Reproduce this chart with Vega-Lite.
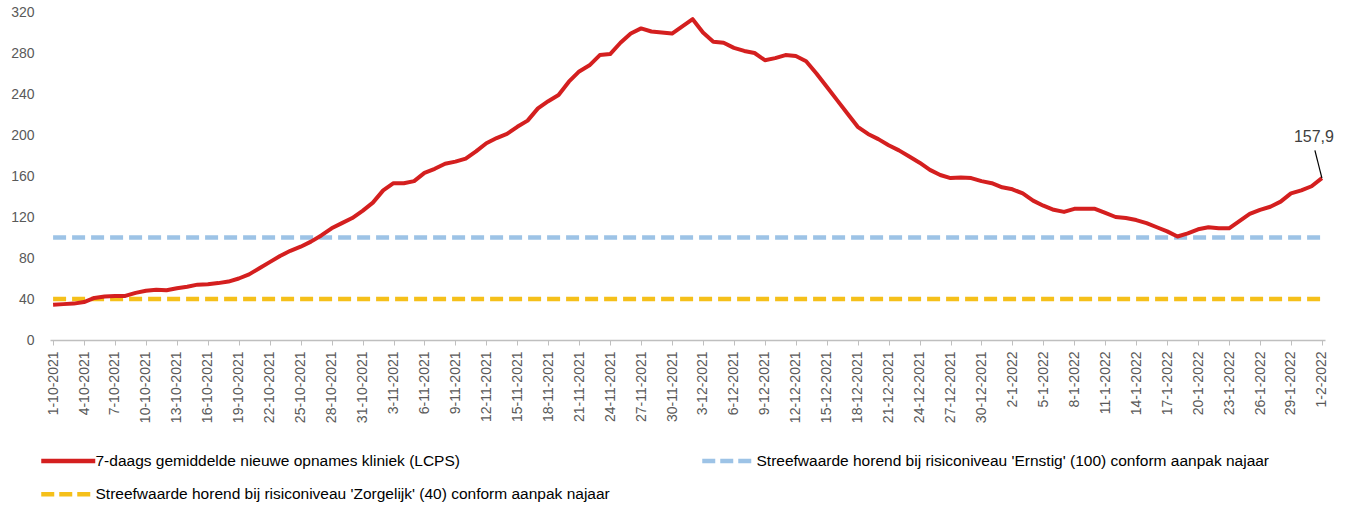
{
  "$schema": "https://vega.github.io/schema/vega-lite/v6.json",
  "width": 1275,
  "height": 328,
  "autosize": {"type": "none"},
  "padding": {"left": 50, "top": 12, "right": 25, "bottom": 168},
  "background": "white",
  "config": {
    "font": "Liberation Sans",
    "view": {"stroke": null},
    "locale": {"number": {"decimal": ",", "thousands": ".", "grouping": [3], "currency": ["€", ""]}}
  },
  "data": {"values": [
    {"d": "1-10-2021", "v": 34.5}, {"d": "2-10-2021", "v": 35}, {"d": "3-10-2021", "v": 35.5}, {"d": "4-10-2021", "v": 37},
    {"d": "5-10-2021", "v": 41}, {"d": "6-10-2021", "v": 42.5}, {"d": "7-10-2021", "v": 43}, {"d": "8-10-2021", "v": 43},
    {"d": "9-10-2021", "v": 46}, {"d": "10-10-2021", "v": 48}, {"d": "11-10-2021", "v": 49}, {"d": "12-10-2021", "v": 48.5},
    {"d": "13-10-2021", "v": 50.5}, {"d": "14-10-2021", "v": 52}, {"d": "15-10-2021", "v": 54}, {"d": "16-10-2021", "v": 54.5},
    {"d": "17-10-2021", "v": 55.5}, {"d": "18-10-2021", "v": 57}, {"d": "19-10-2021", "v": 60}, {"d": "20-10-2021", "v": 64},
    {"d": "21-10-2021", "v": 70}, {"d": "22-10-2021", "v": 76}, {"d": "23-10-2021", "v": 82}, {"d": "24-10-2021", "v": 87},
    {"d": "25-10-2021", "v": 91}, {"d": "26-10-2021", "v": 96}, {"d": "27-10-2021", "v": 102}, {"d": "28-10-2021", "v": 109},
    {"d": "29-10-2021", "v": 114}, {"d": "30-10-2021", "v": 119}, {"d": "31-10-2021", "v": 126},
    {"d": "1-11-2021", "v": 134}, {"d": "2-11-2021", "v": 146}, {"d": "3-11-2021", "v": 153}, {"d": "4-11-2021", "v": 153},
    {"d": "5-11-2021", "v": 155}, {"d": "6-11-2021", "v": 163}, {"d": "7-11-2021", "v": 167}, {"d": "8-11-2021", "v": 172},
    {"d": "9-11-2021", "v": 174}, {"d": "10-11-2021", "v": 177}, {"d": "11-11-2021", "v": 184}, {"d": "12-11-2021", "v": 192},
    {"d": "13-11-2021", "v": 197}, {"d": "14-11-2021", "v": 201}, {"d": "15-11-2021", "v": 208}, {"d": "16-11-2021", "v": 214},
    {"d": "17-11-2021", "v": 226}, {"d": "18-11-2021", "v": 233}, {"d": "19-11-2021", "v": 239}, {"d": "20-11-2021", "v": 252},
    {"d": "21-11-2021", "v": 262}, {"d": "22-11-2021", "v": 268}, {"d": "23-11-2021", "v": 278}, {"d": "24-11-2021", "v": 279},
    {"d": "25-11-2021", "v": 290}, {"d": "26-11-2021", "v": 299}, {"d": "27-11-2021", "v": 304}, {"d": "28-11-2021", "v": 301},
    {"d": "29-11-2021", "v": 300}, {"d": "30-11-2021", "v": 299},
    {"d": "1-12-2021", "v": 306}, {"d": "2-12-2021", "v": 313}, {"d": "3-12-2021", "v": 300}, {"d": "4-12-2021", "v": 291},
    {"d": "5-12-2021", "v": 290}, {"d": "6-12-2021", "v": 285}, {"d": "7-12-2021", "v": 282}, {"d": "8-12-2021", "v": 280},
    {"d": "9-12-2021", "v": 273}, {"d": "10-12-2021", "v": 275}, {"d": "11-12-2021", "v": 278}, {"d": "12-12-2021", "v": 277},
    {"d": "13-12-2021", "v": 272}, {"d": "14-12-2021", "v": 260}, {"d": "15-12-2021", "v": 247}, {"d": "16-12-2021", "v": 234},
    {"d": "17-12-2021", "v": 221}, {"d": "18-12-2021", "v": 208}, {"d": "19-12-2021", "v": 201}, {"d": "20-12-2021", "v": 196},
    {"d": "21-12-2021", "v": 190}, {"d": "22-12-2021", "v": 185}, {"d": "23-12-2021", "v": 179}, {"d": "24-12-2021", "v": 173},
    {"d": "25-12-2021", "v": 166}, {"d": "26-12-2021", "v": 161}, {"d": "27-12-2021", "v": 158}, {"d": "28-12-2021", "v": 158.5},
    {"d": "29-12-2021", "v": 158}, {"d": "30-12-2021", "v": 155}, {"d": "31-12-2021", "v": 153},
    {"d": "1-1-2022", "v": 149}, {"d": "2-1-2022", "v": 147}, {"d": "3-1-2022", "v": 143}, {"d": "4-1-2022", "v": 136},
    {"d": "5-1-2022", "v": 131}, {"d": "6-1-2022", "v": 127}, {"d": "7-1-2022", "v": 125}, {"d": "8-1-2022", "v": 128},
    {"d": "9-1-2022", "v": 128}, {"d": "10-1-2022", "v": 128}, {"d": "11-1-2022", "v": 124}, {"d": "12-1-2022", "v": 120},
    {"d": "13-1-2022", "v": 119}, {"d": "14-1-2022", "v": 117}, {"d": "15-1-2022", "v": 114}, {"d": "16-1-2022", "v": 110},
    {"d": "17-1-2022", "v": 106}, {"d": "18-1-2022", "v": 101}, {"d": "19-1-2022", "v": 104}, {"d": "20-1-2022", "v": 108},
    {"d": "21-1-2022", "v": 110}, {"d": "22-1-2022", "v": 109}, {"d": "23-1-2022", "v": 109}, {"d": "24-1-2022", "v": 116},
    {"d": "25-1-2022", "v": 123}, {"d": "26-1-2022", "v": 127}, {"d": "27-1-2022", "v": 130}, {"d": "28-1-2022", "v": 135},
    {"d": "29-1-2022", "v": 143}, {"d": "30-1-2022", "v": 146}, {"d": "31-1-2022", "v": 150},
    {"d": "1-2-2022", "v": 157.9}
  ]},
  "encoding": {
    "x": {
      "field": "d", "type": "ordinal", "sort": null,
      "scale": {"type": "point", "padding": 0.3},
      "axis": {
        "title": null, "labelAngle": -90, "labelFontSize": 14, "labelColor": "#595959",
        "labelPadding": 6, "domainColor": "#bfbfbf", "domainWidth": 1.5, "tickColor": "#bfbfbf", "tickSize": 5, "tickWidth": 1,
        "grid": false,
        "values": ["1-10-2021","4-10-2021","7-10-2021","10-10-2021","13-10-2021","16-10-2021","19-10-2021","22-10-2021","25-10-2021","28-10-2021","31-10-2021",
                   "3-11-2021","6-11-2021","9-11-2021","12-11-2021","15-11-2021","18-11-2021","21-11-2021","24-11-2021","27-11-2021","30-11-2021",
                   "3-12-2021","6-12-2021","9-12-2021","12-12-2021","15-12-2021","18-12-2021","21-12-2021","24-12-2021","27-12-2021","30-12-2021",
                   "2-1-2022","5-1-2022","8-1-2022","11-1-2022","14-1-2022","17-1-2022","20-1-2022","23-1-2022","26-1-2022","29-1-2022","1-2-2022"]
      }
    }
  },
  "layer": [
    {
      "mark": {"type": "line", "strokeWidth": 4.5, "strokeDash": [13, 6]},
      "encoding": {
        "y": {
          "datum": 40, "type": "quantitative",
          "scale": {"domain": [0, 320], "nice": false},
          "axis": {
            "title": null, "values": [0,20,40,60,80,100,120,140,160,180,200,220,240,260,280,300,320],
            "labelOverlap": false,
            "domain": false, "ticks": false, "labelPadding": 16, "labelFontSize": 14, "labelColor": "#595959",
            "gridColor": "#d9d9d9", "gridWidth": 1.5
          }
        },
        "color": {"datum": "Streefwaarde horend bij risiconiveau 'Zorgelijk' (40) conform aanpak najaar"}
      }
    },
    {
      "mark": {"type": "line", "strokeWidth": 4.5, "strokeDash": [13, 6]},
      "encoding": {
        "y": {"datum": 100, "type": "quantitative"},
        "color": {"datum": "Streefwaarde horend bij risiconiveau 'Ernstig' (100) conform aanpak najaar"}
      }
    },
    {
      "mark": {"type": "line", "strokeWidth": 4, "strokeJoin": "round"},
      "encoding": {
        "y": {
          "field": "v", "type": "quantitative",
          "scale": {"domain": [0, 320], "nice": false},
          "axis": {
            "title": null, "values": [0,20,40,60,80,100,120,140,160,180,200,220,240,260,280,300,320],
            "labelOverlap": false,
            "domain": false, "ticks": false, "labelPadding": 16, "labelFontSize": 14, "labelColor": "#595959",
            "gridColor": "#d9d9d9", "gridWidth": 1.5
          }
        },
        "color": {
          "datum": "7-daags gemiddelde nieuwe opnames kliniek (LCPS)",
          "scale": {
            "domain": [
              "7-daags gemiddelde nieuwe opnames kliniek (LCPS)",
              "Streefwaarde horend bij risiconiveau 'Ernstig' (100) conform aanpak najaar",
              "Streefwaarde horend bij risiconiveau 'Zorgelijk' (40) conform aanpak najaar"
            ],
            "range": ["#d41f1f", "#9dc3e6", "#f5c01a"]
          },
          "legend": {
            "title": null, "orient": "none", "legendX": 10.5, "legendY": 441, "columns": 2,
            "columnPadding": 82, "rowPadding": 14.5,
            "values": [
              "7-daags gemiddelde nieuwe opnames kliniek (LCPS)",
              "Streefwaarde horend bij risiconiveau 'Zorgelijk' (40) conform aanpak najaar",
              "Streefwaarde horend bij risiconiveau 'Ernstig' (100) conform aanpak najaar"
            ],
            "symbolType": "M-5.4,0H5.4", "symbolSize": 100, "symbolStrokeWidth": 4.5,
            "labelFontSize": 15.5, "labelColor": "#000000", "labelOffset": 19.5, "labelLimit": 700,
            "encode": {"symbols": {"update": {"strokeDash": {"signal": "indexof(datum.value, '7-daags') === 0 ? [1, 0] : [13, 5]"}}}}
          }
        }
      }
    },
    {
      "transform": [{"filter": "datum.d === '1-2-2022'"}],
      "mark": {"type": "rule", "color": "#000000", "strokeWidth": 1.2, "x2Offset": -7},
      "encoding": {
        "x2": {"field": "d"},
        "y": {"field": "v", "type": "quantitative"},
        "y2": {"datum": 185}
      }
    },
    {
      "transform": [{"filter": "datum.d === '1-2-2022'"}],
      "mark": {"type": "text", "fontSize": 16, "color": "#404040", "dx": -8, "dy": 0, "baseline": "middle"},
      "encoding": {
        "y": {"datum": 198, "type": "quantitative"},
        "text": {"field": "v", "type": "quantitative", "format": ".1f"}
      }
    }
  ]
}
